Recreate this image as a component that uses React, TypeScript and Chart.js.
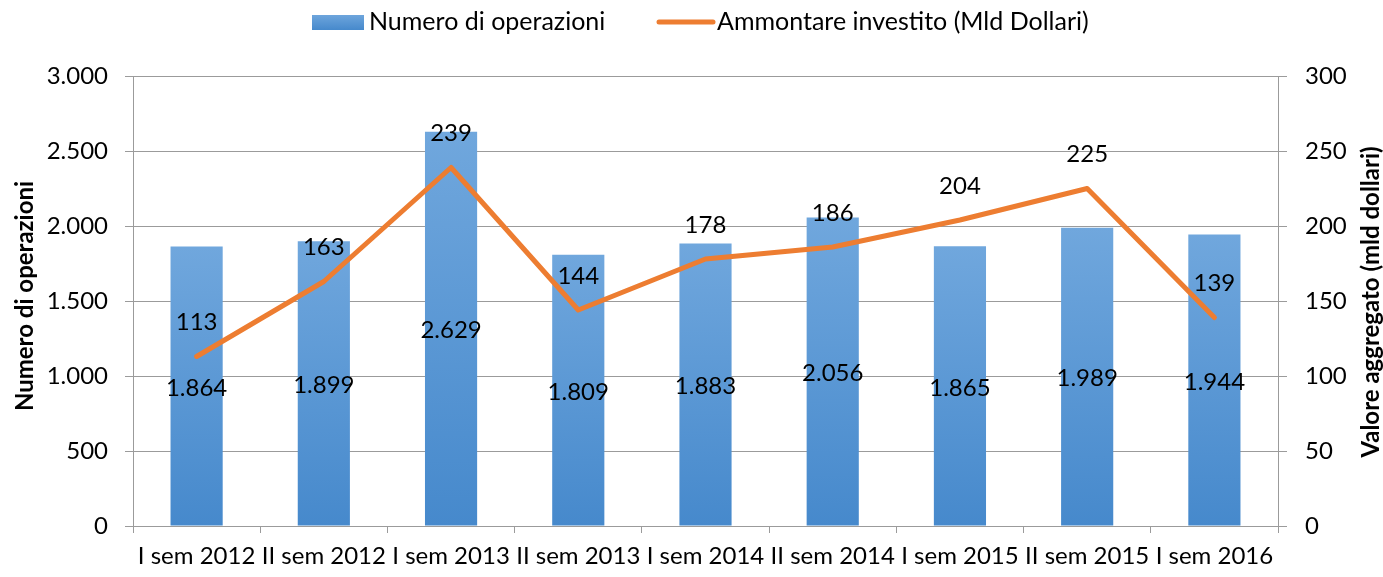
import React, { useEffect, useRef } from 'react';
import { Chart, registerables } from 'chart.js';
Chart.register(...registerables);

const categories = [
  'I sem 2012', 'II sem 2012', 'I sem 2013', 'II sem 2013', 'I sem 2014',
  'II sem 2014', 'I sem 2015', 'II sem 2015', 'I sem 2016',
];
const operations = [1864, 1899, 2629, 1809, 1883, 2056, 1865, 1989, 1944];
const investment = [113, 163, 239, 144, 178, 186, 204, 225, 139];
const seriesNames = ['Numero di operazioni', 'Ammontare investito (Mld Dollari)'];
const axisTitles = ['Numero di operazioni', 'Valore aggregato (mld dollari)'];
const leftAxisRange = [0, 3000, 500];
const rightAxisRange = [0, 300, 50];

const FONT = 'Lato, "Open Sans", sans-serif';
const FS = 24;
const GRID = '#9b9b9b';
const BAR_TOP = '#70a7dd';
const BAR_BOTTOM = '#4689cc';
const ORANGE = '#ED7D31';

const fmt = (v: number) => String(Math.round(v)).replace(/\B(?=(\d{3})+(?!\d))/g, '.');

const overlayPlugin = {
  id: 'overlay',
  afterDatasetsDraw(chart: any) {
    const ctx = chart.ctx;
    const area = chart.chartArea;
    ctx.save();
    ctx.fillStyle = '#000';
    ctx.font = `${FS}px ${FONT}`;
    ctx.textAlign = 'center';
    ctx.textBaseline = 'middle';
    const barMeta = chart.getDatasetMeta(0);
    barMeta.data.forEach((el: any, i: number) => {
      ctx.fillText(fmt(operations[i]), el.x, (el.y + el.base) / 2 + 2);
    });
    const lineMeta = chart.getDatasetMeta(1);
    lineMeta.data.forEach((el: any, i: number) => {
      ctx.fillText(String(investment[i]), el.x, el.y - 34);
    });

    // legend
    ctx.font = `25px ${FONT}`;
    const ly = 22;
    let x = 312;
    const g = ctx.createLinearGradient(0, ly - 8, 0, ly + 8);
    g.addColorStop(0, BAR_TOP);
    g.addColorStop(1, BAR_BOTTOM);
    ctx.fillStyle = g;
    ctx.fillRect(x, ly - 7, 52, 15);
    x += 57;
    ctx.fillStyle = '#000';
    ctx.textAlign = 'left';
    ctx.fillText(seriesNames[0], x, ly);
    x = 659;
    ctx.strokeStyle = ORANGE;
    ctx.lineWidth = 5;
    ctx.lineCap = 'round';
    ctx.beginPath();
    ctx.moveTo(x, ly);
    ctx.lineTo(x + 54, ly);
    ctx.stroke();
    ctx.fillText(seriesNames[1], x + 58, ly);

    // axis titles
    ctx.font = `bold ${FS}px ${FONT}`;
    ctx.textAlign = 'center';
    const cy = (area.top + area.bottom) / 2;
    ctx.save();
    ctx.translate(25, cy - 5);
    ctx.rotate(-Math.PI / 2);
    ctx.fillText(axisTitles[0], 0, 0);
    ctx.restore();
    ctx.save();
    ctx.translate(1371, cy + 1);
    ctx.rotate(-Math.PI / 2);
    ctx.fillText(axisTitles[1], 0, 0);
    ctx.restore();
    ctx.restore();
  },
};

export default function App() {
  const ref = useRef<HTMLCanvasElement | null>(null);
  useEffect(() => {
    if (!ref.current) return;
    const font = { family: FONT, size: FS };
    const chart = new Chart(ref.current, {
      type: 'bar',
      data: {
        labels: categories,
        datasets: [
          {
            type: 'bar',
            label: seriesNames[0],
            data: operations,
            yAxisID: 'y',
            order: 2,
            categoryPercentage: 1,
            barPercentage: 0.41,
            backgroundColor: (c: any) => {
              const ch = c.chart;
              const ys = ch.scales && ch.scales.y;
              if (!ys || c.type !== 'data' || !ch.chartArea) return BAR_BOTTOM;
              const top = ys.getPixelForValue(c.raw);
              const bottom = ys.getPixelForValue(0);
              const g = ch.ctx.createLinearGradient(0, top, 0, bottom);
              g.addColorStop(0, BAR_TOP);
              g.addColorStop(1, BAR_BOTTOM);
              return g;
            },
            borderWidth: 0,
          },
          {
            type: 'line',
            label: seriesNames[1],
            data: investment,
            yAxisID: 'y1',
            order: 1,
            borderColor: ORANGE,
            borderWidth: 5,
            pointRadius: 0,
            tension: 0,
            borderJoinStyle: 'round',
            borderCapStyle: 'round',
          } as any,
        ],
      },
      options: {
        animation: false,
        responsive: true,
        maintainAspectRatio: false,
        layout: { padding: { top: 76, left: 0, right: 0, bottom: 0 } },
        plugins: { legend: { display: false }, tooltip: { enabled: false } },
        scales: {
          x: {
            grid: { offset: true, drawOnChartArea: false, tickLength: 7, color: GRID },
            border: { color: GRID },
            ticks: { font, color: '#000', padding: 9, maxRotation: 0, autoSkip: false },
            afterFit: (s: any) => { s.height = 51; },
          },
          y: {
            position: 'left',
            min: leftAxisRange[0],
            max: leftAxisRange[1],
            ticks: { stepSize: leftAxisRange[2], font, color: '#000', padding: 17, callback: (v: any) => fmt(Number(v)) },
            grid: { color: GRID, tickLength: 8 },
            border: { color: GRID },
            afterFit: (s: any) => { s.width = 133; },
          },
          y1: {
            position: 'right',
            min: rightAxisRange[0],
            max: rightAxisRange[1],
            ticks: { stepSize: rightAxisRange[2], font, color: '#000', padding: 18 },
            grid: { drawOnChartArea: false, color: GRID, tickLength: 9 },
            border: { color: GRID },
            afterFit: (s: any) => { s.width = 105; },
          },
        },
      },
      plugins: [overlayPlugin],
    } as any);
    return () => chart.destroy();
  }, []);
  return (
    <div style={{ position: 'fixed', left: 0, top: 0, width: 1383, height: 577, background: '#fff' }}>
      <canvas ref={ref} />
    </div>
  );
}
